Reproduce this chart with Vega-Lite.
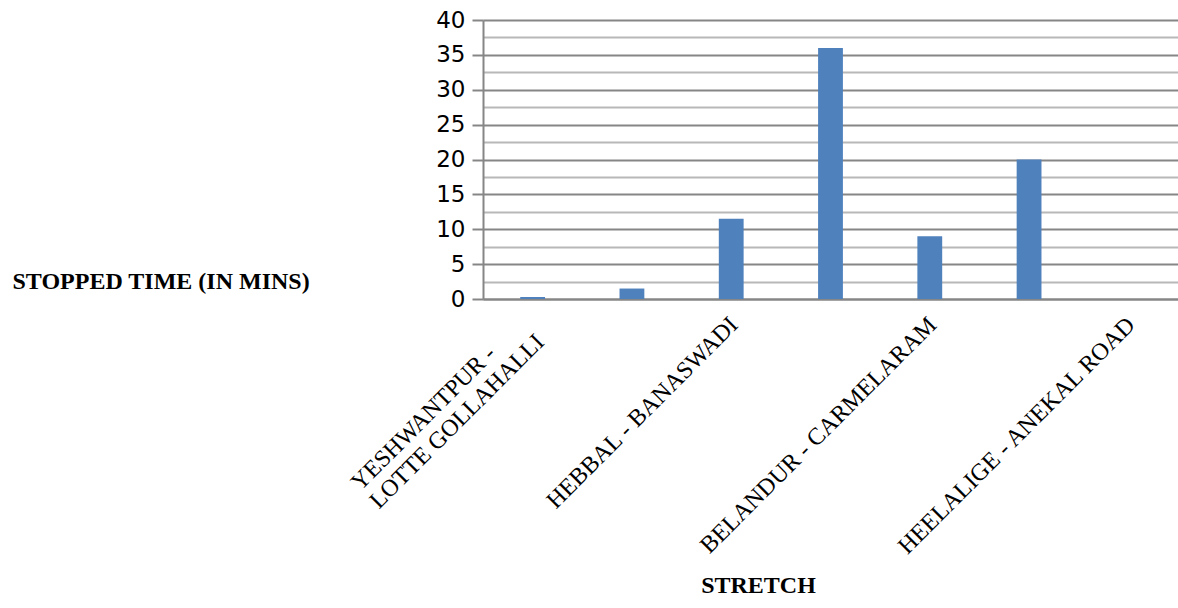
{
  "$schema": "https://vega.github.io/schema/vega-lite/v6.json",
  "width": 695,
  "height": 279,
  "autosize": {"type": "none"},
  "padding": {"left": 483, "top": 20, "right": 0, "bottom": 309},
  "background": "white",
  "config": {"view": {"stroke": null}},
  "data": {
    "values": [
      {"stretch": "YESHWANTPUR - LOTTE GOLLAHALLI", "minutes": 0.3},
      {"stretch": "LOTTE GOLLAHALLI - HEBBAL", "minutes": 1.5},
      {"stretch": "HEBBAL - BANASWADI", "minutes": 11.5},
      {"stretch": "BANASWADI - BELANDUR", "minutes": 36},
      {"stretch": "BELANDUR - CARMELARAM", "minutes": 9},
      {"stretch": "CARMELARAM - HEELALIGE", "minutes": 20},
      {"stretch": "HEELALIGE - ANEKAL ROAD", "minutes": 0}
    ]
  },
  "mark": {"type": "bar", "color": "#4f81bd"},
  "encoding": {
    "x": {
      "field": "stretch",
      "type": "nominal",
      "sort": null,
      "scale": {"paddingInner": 0.75, "paddingOuter": 0.375},
      "axis": {
        "values": ["YESHWANTPUR - LOTTE GOLLAHALLI", "HEBBAL - BANASWADI", "BELANDUR - CARMELARAM", "HEELALIGE - ANEKAL ROAD"],
        "labelExpr": "datum.label == 'YESHWANTPUR - LOTTE GOLLAHALLI' ? ['YESHWANTPUR -', 'LOTTE GOLLAHALLI'] : datum.label",
        "labelAngle": -45,
        "labelAlign": {"condition": {"test": "datum.value == 'YESHWANTPUR - LOTTE GOLLAHALLI'", "value": "left"}, "value": "right"},
        "labelOffset": {"condition": {"test": "datum.value == 'YESHWANTPUR - LOTTE GOLLAHALLI'", "value": -177}, "value": 3},
        "labelPadding": {"condition": {"test": "datum.value == 'YESHWANTPUR - LOTTE GOLLAHALLI'", "value": 187}, "value": 22},
        "labelBaseline": "middle",
        "labelFont": "Liberation Serif",
        "labelFontSize": 24,
        "labelLineHeight": 26,
        "labelColor": "black",
        "labelLimit": 0,
        "labelOverlap": false,
        "ticks": false,
        "domainColor": "#868686",
        "domainWidth": 2,
        "title": "STRETCH",
        "titleFont": "Liberation Serif",
        "titleFontSize": 24,
        "titleFontWeight": "bold",
        "titleColor": "black",
        "titleAlign": "center",
        "titleBaseline": "middle",
        "titleX": 275,
        "titleY": 286
      }
    },
    "y": {
      "field": "minutes",
      "type": "quantitative",
      "scale": {"domain": [0, 40], "nice": false},
      "axis": {
        "values": [0, 2.5, 5, 7.5, 10, 12.5, 15, 17.5, 20, 22.5, 25, 27.5, 30, 32.5, 35, 37.5, 40],
        "labelExpr": "datum.value % 5 === 0 ? datum.label : ''",
        "labelFont": "DejaVu Sans",
        "labelFontSize": 23,
        "labelColor": "black",
        "labelPadding": 7,
        "labelOverlap": false,
        "labelFlush": false,
        "tickSize": 11,
        "tickWidth": 2,
        "tickColor": {"condition": {"test": "datum.value % 5 !== 0", "value": "transparent"}, "value": "#868686"},
        "grid": true,
        "gridWidth": 2,
        "gridColor": {"condition": {"test": "datum.value % 5 !== 0", "value": "#b8b8b8"}, "value": "#868686"},
        "domainColor": "#868686",
        "domainWidth": 2,
        "title": "STOPPED TIME (IN MINS)",
        "titleFont": "Liberation Serif",
        "titleFontSize": 24,
        "titleFontWeight": "bold",
        "titleColor": "black",
        "titleAngle": 0,
        "titleAlign": "left",
        "titleBaseline": "middle",
        "titleX": -471,
        "titleY": 261
      }
    }
  }
}
